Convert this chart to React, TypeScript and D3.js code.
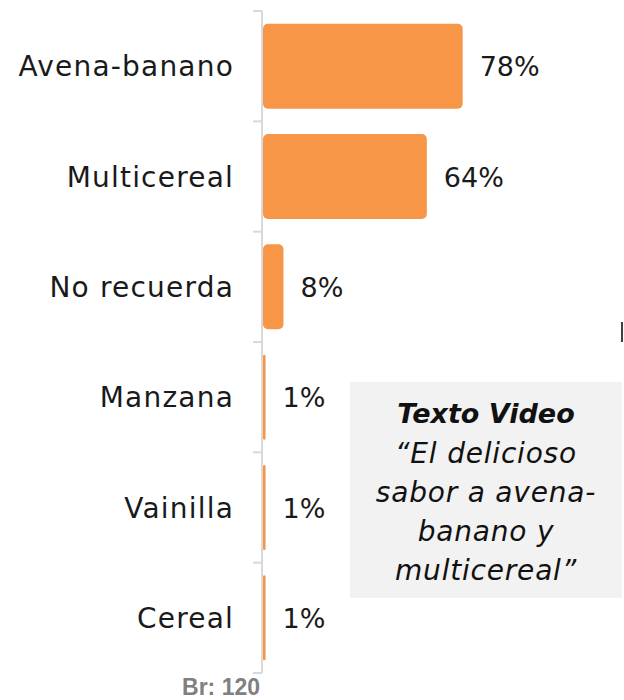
import React from 'react';
import * as d3 from 'd3';

const categories = ['Avena-banano', 'Multicereal', 'No recuerda', 'Manzana', 'Vainilla', 'Cereal'];
const values = [78, 64, 8, 1, 1, 1];
const noteTitle = 'Texto Video';
const noteLines = ['\u201CEl delicioso', 'sabor a avena-', 'banano y', 'multicereal\u201D'];
const baseText = 'Br: 120';

const App = () => {
  const width = 624;
  const height = 700;
  const axisX = 262;
  const font = '"DejaVu Sans", sans-serif';

  // scales
  const y = d3.scaleBand<string>().domain(categories).range([11, 673]).paddingInner(0.23).paddingOuter(0.115);
  const band = d3.scaleBand<string>().domain(categories).range([11, 673]);
  const x = d3.scaleLinear().domain([0, 100]).range([axisX + 1, axisX + 1 + 256]);

  const tickYs = categories.map(c => band(c)!).concat([673]);

  return (
    <svg width={width} height={height} style={{ position: 'absolute', left: 0, top: 0 }}>
      <rect width={width} height={height} fill="#fff" />

      {/* axis */}
      <line x1={axisX} x2={axisX} y1={11} y2={673} stroke="#d9d9d9" strokeWidth={2} />
      {tickYs.map((t, i) => (
        <line key={i} x1={axisX - 9} x2={axisX} y1={t} y2={t} stroke="#d9d9d9" strokeWidth={2} />
      ))}

      {/* bars */}
      {categories.map((c, i) => {
        const w = x(values[i]) - x(0);
        return (
          <rect key={c} x={x(0)} y={y(c)} width={w} height={y.bandwidth()}
            rx={Math.min(5, w / 2)} fill="#F79646" />
        );
      })}

      {/* category labels */}
      {categories.map(c => (
        <text key={c} x={234} y={band(c)! + band.bandwidth() / 2 + 10} textAnchor="end"
          fontFamily={font} fontSize={28} letterSpacing={1.2} fill="#1a1a1a">{c}</text>
      ))}

      {/* value labels */}
      {categories.map((c, i) => (
        <text key={c} x={x(values[i]) + 17} y={band(c)! + band.bandwidth() / 2 + 10}
          fontFamily={font} fontSize={27} fill="#1a1a1a">{values[i]}%</text>
      ))}

      {/* note box */}
      <rect x={350} y={382} width={272} height={216} fill="#f2f2f2" />
      <text x={486} y={423} textAnchor="middle" fontFamily={font} fontSize={27}
        fontWeight="bold" fontStyle="italic" fill="#111">{noteTitle}</text>
      {noteLines.map((l, i) => (
        <text key={l} x={486} y={463 + i * 39} textAnchor="middle" fontFamily={font}
          fontSize={28} letterSpacing={0.8} fontStyle="italic" fill="#111">{l}</text>
      ))}

      {/* stray marker at right edge */}
      <line x1={622} x2={622} y1={322} y2={342} stroke="#404040" strokeWidth={2} />

      <text x={260} y={695} textAnchor="end" fontFamily='"Liberation Sans", Arial, sans-serif'
        fontSize={23} fontWeight="bold" fill="#808080">{baseText}</text>
    </svg>
  );
};

export default App;
